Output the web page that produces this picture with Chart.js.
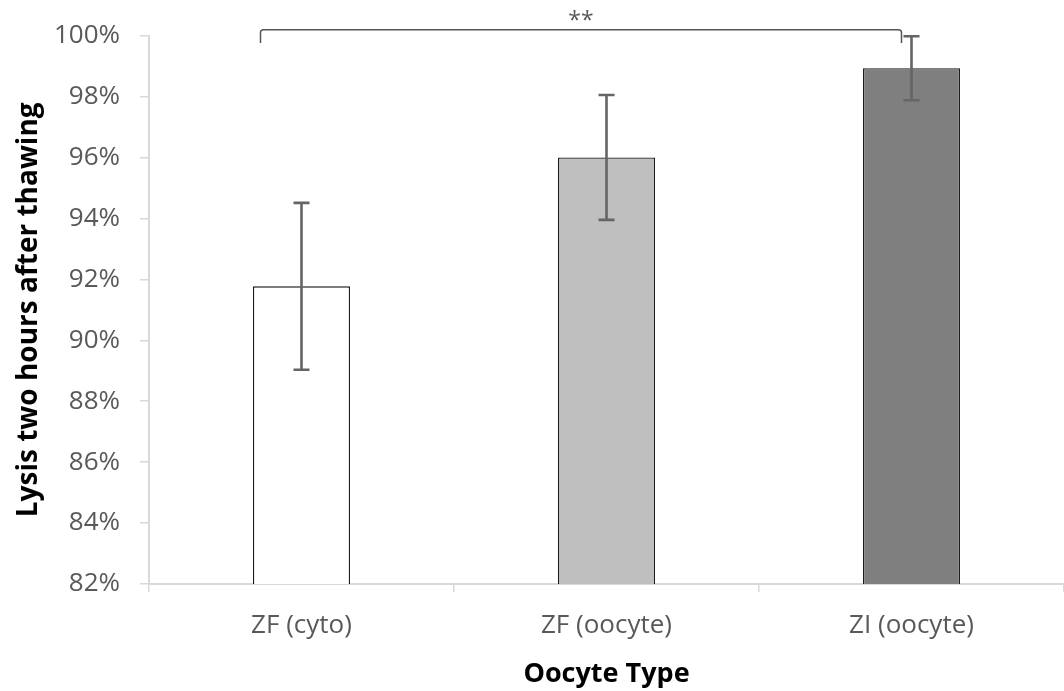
<!DOCTYPE html>
<html>
<head>
<meta charset="utf-8">
<script src="https://cdn.jsdelivr.net/npm/chart.js@4.4.0/dist/chart.umd.min.js"></script>
<style>
    html, body { margin: 0; padding: 0; background: #fff; }
    .m-chart { position: relative; width: 1064px; height: 691px; }
</style>
</head>
<body>
<div class="m-chart"><canvas id="myChart"></canvas></div>
<script>
// lysis rate per oocyte type (%), with error bar half-widths
const oocyteTypes = ['ZF (cyto)', 'ZF (oocyte)', 'ZI (oocyte)'];
const lysisRate = [91.77, 96.0, 98.93];
const lysisError = [2.74, 2.05, 1.05];
const barColors = ['#ffffff', '#bfbfbf', '#7f7f7f'];
const yTicks = [82, 84, 86, 88, 90, 92, 94, 96, 98, 100];
// significance bracket between first and last bar
const sigPair = [0, 2];
const sigLabel = '**';

const FONT = "'Open Sans', 'Noto Sans', sans-serif";

// error bars drawn from the y scale
const errorBars = {
    id: 'errorBars',
    afterDatasetsDraw(chart) {
        const ctx = chart.ctx;
        const y = chart.scales.y;
        const meta = chart.getDatasetMeta(0);
        ctx.save();
        ctx.strokeStyle = '#656565';
        ctx.lineWidth = 2.6;
        meta.data.forEach((bar, i) => {
            const top = y.getPixelForValue(lysisRate[i] + lysisError[i]);
            const bot = y.getPixelForValue(lysisRate[i] - lysisError[i]);
            ctx.beginPath();
            ctx.moveTo(bar.x, top);
            ctx.lineTo(bar.x, bot);
            ctx.moveTo(bar.x - 8, top);
            ctx.lineTo(bar.x + 8, top);
            ctx.moveTo(bar.x - 8, bot);
            ctx.lineTo(bar.x + 8, bot);
            ctx.stroke();
        });
        ctx.restore();
    }
};

// "**" bracket above the bars
const sigBracket = {
    id: 'sigBracket',
    afterDraw(chart) {
        const ctx = chart.ctx;
        const x = chart.scales.x;
        const y = chart.scales.y;
        const x1 = x.getPixelForValue(sigPair[0]) - 41;
        const x2 = x.getPixelForValue(sigPair[1]) - 10;
        const yTop = y.getPixelForValue(100.19);
        const yLeg = y.getPixelForValue(99.76);
        ctx.save();
        ctx.strokeStyle = '#555';
        ctx.lineWidth = 1.5;
        ctx.beginPath();
        ctx.moveTo(x1, yLeg);
        ctx.lineTo(x1, yTop + 3);
        ctx.quadraticCurveTo(x1, yTop, x1 + 3, yTop);
        ctx.lineTo(x2 - 3, yTop);
        ctx.quadraticCurveTo(x2, yTop, x2, yTop + 3);
        ctx.lineTo(x2, yLeg);
        ctx.stroke();
        ctx.fillStyle = '#595959';
        ctx.font = '23px ' + FONT;
        ctx.textAlign = 'center';
        ctx.textBaseline = 'middle';
        ctx.fillText(sigLabel, (x1 + x2) / 2, yTop - 8);
        ctx.restore();
    }
};

const ctx = document.getElementById('myChart').getContext('2d');
const myChart = new Chart(ctx, {
    type: 'bar',
    data: {
        labels: oocyteTypes,
        datasets: [{
            data: lysisRate,
            backgroundColor: barColors,
            borderColor: '#1a1a1a',
            borderWidth: 1.3,
            barPercentage: 0.318,
            categoryPercentage: 1
        }]
    },
    options: {
        responsive: true,
        maintainAspectRatio: false,
        animation: false,
        layout: { padding: { top: 35, right: 0, bottom: 0, left: 0 } },
        plugins: {
            legend: { display: false },
            tooltip: { enabled: false }
        },
        scales: {
            x: {
                offset: true,
                afterFit(scale) { scale.height = 107; },
                grid: {
                    offset: true,
                    drawOnChartArea: false,
                    drawTicks: true,
                    tickLength: 8,
                    color: '#d9d9d9',
                    lineWidth: 1.5
                },
                border: { color: '#d9d9d9', width: 2 },
                ticks: {
                    color: '#595959',
                    padding: 18,
                    font: { family: FONT, size: 26 }
                },
                title: {
                    display: true,
                    text: 'Oocyte Type',
                    color: '#000',
                    padding: { top: 0, bottom: 0 },
                    font: { family: FONT, size: 27, weight: 'bold' }
                }
            },
            y: {
                min: yTicks[0],
                max: yTicks[yTicks.length - 1],
                afterFit(scale) { scale.width = 149; },
                afterBuildTicks(scale) { scale.ticks = yTicks.map(v => ({ value: v })); },
                grid: {
                    drawOnChartArea: false,
                    drawTicks: true,
                    tickLength: 9,
                    color: '#d9d9d9',
                    lineWidth: 1.5
                },
                border: { color: '#d9d9d9', width: 2 },
                ticks: {
                    color: '#595959',
                    padding: 20,
                    font: { family: FONT, size: 26 },
                    callback: v => v + '%'
                },
                title: {
                    display: true,
                    text: 'Lysis two hours after thawing',
                    color: '#000',
                    padding: { top: 12, bottom: 0 },
                    font: { family: FONT, size: 28, weight: 'bold' }
                }
            }
        }
    },
    plugins: [errorBars, sigBracket]
});
</script>
</body>
</html>
